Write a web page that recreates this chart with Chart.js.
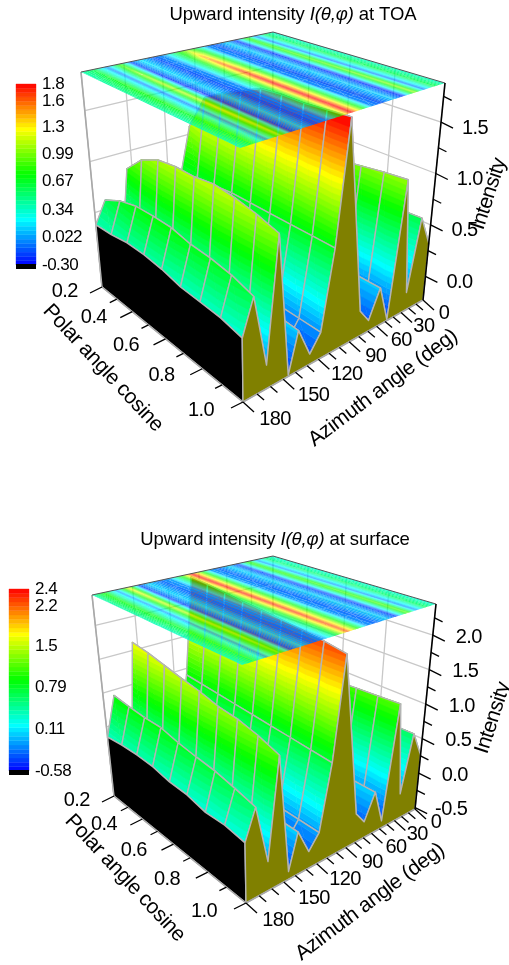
<!DOCTYPE html>
<html>
<head>
<meta charset="utf-8">
<style>
  html, body { margin: 0; padding: 0; background: #fff; }
  canvas { position: absolute; left: 0; }
</style>
<script src="https://cdn.jsdelivr.net/npm/chart.js@4/dist/chart.umd.js"></script>
</head>
<body>
<canvas id="toa" width="509" height="482" style="top:0"></canvas>
<canvas id="surf" width="509" height="483" style="top:482px"></canvas>
<script>
// values
const polarCos = [0.2, 0.3, 0.4, 0.5, 0.6, 0.7, 0.8, 0.9, 1.0];
const azimuth = [180, 172, 163, 154, 146, 138, 128, 118.5, 108, 98, 80, 70, 58.5, 48, 35, 25, 13, 0];

// one row per azimuth, one column per polar angle cosine
const toaIntensity = [
  [0.38, 0.39, 0.42, 0.42, 0.40, 0.36, 0.35, 0.34, 0.30],
  [0.59, 0.68, 0.73, 0.74, 0.74, 0.70, 0.69, 0.66, 0.60],
  [-0.02, -0.03, -0.04, -0.05, -0.05, -0.05, -0.04, -0.03, -0.03],
  [0.83, 1.01, 1.10, 1.13, 1.13, 1.16, 1.14, 1.10, 1.04],
  [-0.15, -0.18, -0.20, -0.21, -0.22, -0.22, -0.22, -0.22, -0.22],
  [0.18, 0.17, 0.16, 0.15, 0.14, 0.14, 0.13, 0.13, 0.12],
  [-0.12, -0.13, -0.14, -0.14, -0.14, -0.14, -0.14, -0.14, -0.14],
  [0.02, 0.02, 0.01, 0.01, 0.0, 0.0, 0.0, 0.0, 0.0],
  [0.62, 0.65, 0.68, 0.70, 0.70, 0.70, 0.70, 0.70, 0.70],
  [1.08, 1.46, 1.58, 1.68, 1.78, 1.80, 1.80, 1.82, 1.84],
  [0.02, 0.01, 0.01, 0.0, 0.0, 0.0, 0.0, 0.0, 0.0],
  [-0.12, -0.12, -0.13, -0.13, -0.13, -0.13, -0.13, -0.13, -0.13],
  [0.14, 0.14, 0.13, 0.13, 0.13, 0.13, 0.12, 0.12, 0.12],
  [-0.20, -0.20, -0.21, -0.21, -0.21, -0.22, -0.22, -0.22, -0.22],
  [0.80, 0.85, 0.90, 0.93, 0.95, 0.97, 1.00, 1.03, 1.05],
  [-0.05, -0.05, -0.05, -0.05, -0.06, -0.06, -0.06, -0.06, -0.06],
  [0.55, 0.56, 0.57, 0.58, 0.59, 0.60, 0.60, 0.60, 0.61],
  [0.30, 0.30, 0.31, 0.31, 0.31, 0.32, 0.32, 0.32, 0.32]
];
const surfIntensity = [
  [0.35, 0.38, 0.39, 0.38, 0.33, 0.32, 0.26, 0.27, 0.23],
  [0.92, 0.89, 0.87, 0.87, 0.81, 0.77, 0.74, 0.68, 0.61],
  [-0.12, -0.12, -0.13, -0.13, -0.14, -0.14, -0.14, -0.15, -0.15],
  [1.62, 1.58, 1.52, 1.46, 1.41, 1.34, 1.31, 1.24, 1.14],
  [-0.38, -0.39, -0.40, -0.40, -0.41, -0.41, -0.42, -0.42, -0.42],
  [0.06, 0.06, 0.05, 0.05, 0.04, 0.04, 0.04, 0.03, 0.03],
  [-0.28, -0.28, -0.29, -0.29, -0.29, -0.30, -0.30, -0.30, -0.30],
  [-0.10, -0.10, -0.10, -0.11, -0.11, -0.11, -0.12, -0.12, -0.12],
  [0.90, 0.88, 0.86, 0.84, 0.82, 0.80, 0.78, 0.76, 0.74],
  [2.40, 2.38, 2.35, 2.32, 2.30, 2.27, 2.24, 2.20, 2.15],
  [-0.10, -0.10, -0.11, -0.11, -0.12, -0.12, -0.12, -0.13, -0.13],
  [-0.28, -0.28, -0.28, -0.29, -0.29, -0.29, -0.30, -0.30, -0.30],
  [0.05, 0.05, 0.05, 0.05, 0.04, 0.04, 0.04, 0.04, 0.04],
  [-0.40, -0.40, -0.40, -0.41, -0.41, -0.41, -0.42, -0.42, -0.42],
  [1.00, 1.02, 1.04, 1.06, 1.08, 1.10, 1.12, 1.14, 1.16],
  [-0.15, -0.15, -0.15, -0.16, -0.16, -0.16, -0.17, -0.17, -0.17],
  [0.55, 0.56, 0.57, 0.58, 0.59, 0.60, 0.61, 0.62, 0.63],
  [0.25, 0.25, 0.25, 0.25, 0.26, 0.26, 0.26, 0.26, 0.26]
];

const polarTicks = [0.2, 0.4, 0.6, 0.8, 1.0];
const azimuthTicks = [0, 30, 60, 90, 120, 150, 180];
const toaZTicks = [0.0, 0.5, 1.0, 1.5];
const surfZTicks = [-0.5, 0.0, 0.5, 1.0, 1.5, 2.0];
const toaBarLabels = ['-0.30', '0.022', '0.34', '0.67', '0.99', '1.3', '1.6', '1.8'];
const toaBarValues = [-0.30, 0.022, 0.34, 0.67, 0.99, 1.3, 1.6, 1.8];
const surfBarLabels = ['-0.58', '0.11', '0.79', '1.5', '2.2', '2.4'];
const surfBarValues = [-0.58, 0.11, 0.79, 1.46, 2.12, 2.4];

// box corners on the page: f = front, l = left, r = right, b = back, t = top plane
const panels = [
  {
    id: 'toa', yMin: 0, yMax: 482, data: toaIntensity, zTicks: toaZTicks,
    zMin: -0.23, zMax: 1.88, cMin: -0.3, cMax: 1.8,
    f: [243, 402], l: [102, 287], r: [423, 300], b: [272, 222],
    ft: [240, 148], lt: [81, 72], rt: [445, 83], bt: [273, 32],
    bar: { x: 16, w: 20, top: 84, bottom: 265, black: 5, labelX: 42 },
    barLabels: toaBarLabels, barValues: toaBarValues,
    title: ['Upward intensity ', 'I(θ,φ)', ' at TOA'], titleX: 293, titleY: 15,
    polarTitle: [103, 368], azTitle: [383, 388], zTitle: [489, 194],
    zOff: [34, 6]
  },
  {
    id: 'surf', yMin: 482, yMax: 965, data: surfIntensity, zTicks: surfZTicks,
    zMin: -0.52, zMax: 2.45, cMin: -0.58, cMax: 2.4,
    f: [246, 903], l: [114, 796], r: [415, 809], b: [273, 734],
    ft: [242, 665], lt: [92, 595], rt: [436, 604], bt: [273, 556],
    bar: { x: 9, w: 20, top: 589, bottom: 771, black: 5, labelX: 35 },
    barLabels: surfBarLabels, barValues: surfBarValues,
    title: ['Upward intensity ', 'I(θ,φ)', ' at surface'], titleX: 275, titleY: 540,
    polarTitle: [125, 878], azTitle: [370, 902], zTitle: [493, 718],
    zOff: [36, 2]
  }
];

const BANDS = 42;
const KP = 0.44;  // perspective along azimuth
const KM = 0.22;  // perspective along polar cosine
const knots = [[0, 0, 255], [0, 255, 255], [0, 255, 0], [255, 255, 0], [255, 0, 0]];

function colorAt(t) {
  const p = Math.min(Math.max(t, 0), 1) * 4;
  const i = Math.min(Math.floor(p), 3);
  const a = knots[i], b = knots[i + 1], f = p - i;
  return 'rgb(' + a.map((c, n) => Math.round(c + (b[n] - c) * f)).join(',') + ')';
}

function warp(t, k) { return t * (1 + k) / (1 + k * t); }
function mix(a, b, t) { return [a[0] + (b[0] - a[0]) * t, a[1] + (b[1] - a[1]) * t]; }

function makeProject(p) {
  return function (mu, phi, z) {
    const sm = warp((1 - mu) / 0.8, KM);
    const sp = warp((180 - phi) / 180, KP);
    const w = (z - p.zMin) / (p.zMax - p.zMin);
    const floor = mix(mix(p.f, p.r, sp), mix(p.l, p.b, sp), sm);
    const top = mix(mix(p.ft, p.rt, sp), mix(p.lt, p.bt, sp), sm);
    const q = mix(floor, top, w);
    return { x: q[0], y: q[1], z: z };
  };
}

// keep the part of a polygon with lo <= z <= hi
function clipZ(poly, lo, hi) {
  function cut(pts, keep, level) {
    const out = [];
    pts.forEach((a, i) => {
      const b = pts[(i + 1) % pts.length];
      if (keep(a.z)) out.push(a);
      if (keep(a.z) !== keep(b.z)) {
        const t = (level - a.z) / (b.z - a.z);
        out.push({ x: a.x + (b.x - a.x) * t, y: a.y + (b.y - a.y) * t, z: level });
      }
    });
    return out;
  }
  let r = cut(poly, z => z >= lo, lo);
  if (r.length) r = cut(r, z => z <= hi, hi);
  return r;
}

class Layer {
  constructor() { this.data = []; this.shapes = []; }
  add(pts, style) {
    pts.forEach(q => this.data.push({ x: q.x, y: q.y }));
    this.shapes.push(Object.assign({ n: pts.length }, style));
  }
  dataset() { return { type: 'surface', data: this.data, shapes: this.shapes, parsing: false }; }
}

// every polygon goes through the chart's own x and y scales
class SurfaceController extends Chart.DatasetController {
  update() {}
  draw() {
    const meta = this._cachedMeta, ds = this.getDataset(), ctx = this.chart.ctx;
    const xs = meta.xScale, ys = meta.yScale;
    let k = 0;
    ctx.save();
    ctx.lineJoin = 'round';
    for (const s of ds.shapes) {
      ctx.beginPath();
      for (let i = 0; i < s.n; i++, k++) {
        const px = xs.getPixelForValue(ds.data[k].x), py = ys.getPixelForValue(ds.data[k].y);
        if (i) ctx.lineTo(px, py); else ctx.moveTo(px, py);
      }
      ctx.globalAlpha = s.alpha === undefined ? 1 : s.alpha;
      if (s.fill) { ctx.closePath(); ctx.fillStyle = s.fill; ctx.fill(); }
      if (s.stroke) { ctx.strokeStyle = s.stroke; ctx.lineWidth = s.lw || 1; ctx.stroke(); }
    }
    ctx.restore();
  }
}
SurfaceController.id = 'surface';
SurfaceController.defaults = { dataElementType: 'point', datasetElementType: false };
Chart.register(SurfaceController);

function bandFill(layer, poly, p, style) {
  const step = (p.cMax - p.cMin) / BANDS;
  const zs = poly.map(q => q.z);
  const first = Math.max(0, Math.floor((Math.min(...zs) - p.cMin) / step));
  const last = Math.min(BANDS - 1, Math.floor((Math.max(...zs) - p.cMin) / step));
  for (let b = first; b <= last; b++) {
    const lo = b === 0 ? -99 : p.cMin + b * step;
    const hi = b === BANDS - 1 ? 99 : p.cMin + (b + 1) * step;
    const part = clipZ(poly, lo, hi);
    if (part.length < 3) continue;
    const col = colorAt((b + 0.5) / BANDS);
    layer.add(part, Object.assign({ fill: col }, style ? style : { stroke: col, lw: 0.6 }));
  }
}

function buildDatasets(p) {
  const P = makeProject(p);
  const grid = new Layer(), surface = new Layer(), walls = new Layer(), plane = new Layer(), axes = new Layer();
  const nm = polarCos.length, na = azimuth.length;
  const GRID = { stroke: '#c8c8c8', lw: 1.3 };
  const EDGE = { stroke: '#b4b4b4', lw: 1.4 };
  const muLo = polarCos[0], muHi = polarCos[nm - 1];

  // back walls
  azimuthTicks.forEach(a => grid.add([P(muLo, a, p.zMin), P(muLo, a, p.zMax)], GRID));
  polarTicks.forEach(m => grid.add([P(m, 0, p.zMin), P(m, 0, p.zMax)], GRID));
  p.zTicks.forEach(z => {
    grid.add([P(muLo, 180, z), P(muLo, 0, z)], GRID);
    grid.add([P(muLo, 0, z), P(muHi, 0, z)], GRID);
  });
  grid.add([P(muLo, 180, p.zMin), P(muLo, 180, p.zMax)], { stroke: '#a8a8a8', lw: 1.6 });

  // surface cells, back to front
  for (let m = 0; m < nm - 1; m++) {
    for (let a = na - 2; a >= 0; a--) {
      const c = [[m, a + 1], [m + 1, a + 1], [m + 1, a], [m, a]].map(q =>
        P(polarCos[q[0]], azimuth[q[1]], p.data[q[1]][q[0]]));
      bandFill(surface, [c[0], c[1], c[2]], p);
      bandFill(surface, [c[0], c[2], c[3]], p);
      surface.add([c[0], c[1], c[2], c[3], c[0]], EDGE);
    }
  }

  // black wall at azimuth 180, olive wall at cosine 1.0
  const front = [P(muLo, 180, p.zMin)];
  polarCos.forEach((m, i) => front.push(P(m, 180, p.data[0][i])));
  front.push(P(muHi, 180, p.zMin));
  walls.add(front, { fill: '#000', stroke: '#b4b4b4', lw: 1.4 });
  const side = [P(muHi, 180, p.zMin)];
  azimuth.forEach((a, i) => side.push(P(muHi, a, p.data[i][nm - 1])));
  side.push(P(muHi, 0, p.zMin));
  walls.add(side, { fill: '#808000', stroke: '#b4b4b4', lw: 1.4 });

  // contour map on the top plane
  for (let m = 0; m < nm - 1; m++) {
    for (let a = 0; a < na - 1; a++) {
      const c = [[m, a + 1], [m + 1, a + 1], [m + 1, a], [m, a]].map(q => {
        const r = P(polarCos[q[0]], azimuth[q[1]], p.zMax);
        r.z = p.data[q[1]][q[0]];
        return r;
      });
      bandFill(plane, [c[0], c[1], c[2]], p, { alpha: 0.9 });
      bandFill(plane, [c[0], c[2], c[3]], p, { alpha: 0.9 });
    }
  }
  plane.add([P(muLo, 180, p.zMax), P(muLo, 0, p.zMax), P(muHi, 0, p.zMax)], { stroke: '#555', lw: 1 });

  // axes and ticks
  const AX = { stroke: '#000', lw: 1.3 };
  axes.add([P(muLo, 180, p.zMin), P(muHi, 180, p.zMin), P(muHi, 0, p.zMin)], { stroke: '#a8a8a8', lw: 1.6 });
  axes.add([P(muHi, 0, p.zMin), P(muHi, 0, p.zMax)], { stroke: '#000', lw: 1.6 });
  const tick = (o, dx, dy) => axes.add([o, { x: o.x + dx, y: o.y + dy }], AX);
  for (let m = 2; m <= 10; m++) {
    const major = m % 2 === 0;
    tick(P(m / 10, 180, p.zMin), major ? -12 : -7, major ? 6 : 3.5);
  }
  for (let a = 0; a <= 180; a += 10) {
    const major = a % 30 === 0;
    tick(P(muHi, a, p.zMin), major ? 11 : 7, major ? 10 : 6);
  }
  const zTickStep = 0.25;
  for (let z = p.zTicks[0] - zTickStep; z < p.zMax; z += zTickStep) {
    if (z < p.zMin) continue;
    const major = p.zTicks.some(v => Math.abs(v - z) < 1e-6);
    tick(P(muHi, 0, z), major ? 12 : 8, major ? 6 : 4);
  }

  // colour scale
  const barY = v => p.bar.bottom - (v - p.cMin) / (p.cMax - p.cMin) * (p.bar.bottom - p.bar.top);
  for (let b = 0; b < BANDS; b++) {
    const v0 = p.cMin + (p.cMax - p.cMin) * b / BANDS, v1 = p.cMin + (p.cMax - p.cMin) * (b + 1) / BANDS;
    const y0 = barY(v0), y1 = barY(v1);
    axes.add([{ x: p.bar.x, y: y0 }, { x: p.bar.x + p.bar.w, y: y0 }, { x: p.bar.x + p.bar.w, y: y1 }, { x: p.bar.x, y: y1 }],
      { fill: colorAt((b + 0.5) / BANDS), stroke: colorAt((b + 0.5) / BANDS), lw: 0.4 });
  }
  const by = p.bar.bottom;
  axes.add([{ x: p.bar.x, y: by - 1 }, { x: p.bar.x + p.bar.w, y: by - 1 }, { x: p.bar.x + p.bar.w, y: by + p.bar.black - 1 }, { x: p.bar.x, y: by + p.bar.black - 1 }], { fill: '#000' });

  // first dataset is painted last
  return [axes, plane, walls, surface, grid].map(l => l.dataset());
}

function labelsPlugin(p) {
  const P = makeProject(p);
  const FONT = '"Liberation Sans", Arial, sans-serif';
  return {
    id: 'labels',
    afterDraw(chart) {
      const ctx = chart.ctx;
      const sx = chart.scales.x, sy = chart.scales.y;
      const put = (str, x, y, size, angle, spacing) => {
        ctx.save();
        ctx.translate(sx.getPixelForValue(x), sy.getPixelForValue(y));
        ctx.rotate((angle || 0) * Math.PI / 180);
        ctx.font = size + 'px ' + FONT;
        ctx.letterSpacing = (spacing || 0) + 'px';
        ctx.fillStyle = '#000';
        ctx.textAlign = 'center';
        ctx.textBaseline = 'middle';
        ctx.fillText(str, 0, 0);
        ctx.restore();
      };

      // title, upright and italic parts side by side
      ctx.save();
      ctx.textBaseline = 'middle';
      ctx.textAlign = 'left';
      ctx.fillStyle = '#000';
      ctx.letterSpacing = '-0.1px';
      const fonts = ['18.5px ' + FONT, 'italic 18.5px ' + FONT, '18.5px ' + FONT];
      const widths = p.title.map((t, i) => { ctx.font = fonts[i]; return ctx.measureText(t).width; });
      let tx = sx.getPixelForValue(p.titleX) - widths.reduce((a, b) => a + b, 0) / 2;
      const ty = sy.getPixelForValue(p.titleY);
      p.title.forEach((t, i) => { ctx.font = fonts[i]; ctx.fillText(t, tx, ty); tx += widths[i]; });
      ctx.restore();

      polarTicks.forEach(m => {
        const q = P(m, 180, p.zMin);
        put(m.toFixed(1), q.x - 42 + (1 - m) * 6, q.y + 8 - (1 - m) * 4, 20, 0, -0.6);
      });
      azimuthTicks.forEach(a => {
        const q = P(1, a, p.zMin);
        put(String(a), q.x + 21 + a / 180 * 11, q.y + 13 + a / 180 * 4, 20, 0, -0.6);
      });
      p.zTicks.forEach(z => {
        const q = P(1, 0, z);
        put(z.toFixed(1), q.x + p.zOff[0], q.y + p.zOff[1], 20, 0, -0.6);
      });
      const barY = v => p.bar.bottom - (v - p.cMin) / (p.cMax - p.cMin) * (p.bar.bottom - p.bar.top);
      p.barLabels.forEach((t, i) => {
        ctx.save();
        ctx.font = '17px ' + FONT;
        ctx.letterSpacing = '-0.5px';
        ctx.fillStyle = '#000';
        ctx.textAlign = 'left';
        ctx.textBaseline = 'middle';
        ctx.fillText(t, sx.getPixelForValue(p.bar.labelX), sy.getPixelForValue(barY(p.barValues[i])));
        ctx.restore();
      });

      put('Polar angle cosine', p.polarTitle[0], p.polarTitle[1], 21, 47, -0.4);
      put('Azimuth angle (deg)', p.azTitle[0], p.azTitle[1], 21, -37, -0.4);
      put('Intensity', p.zTitle[0], p.zTitle[1], 21, -72, -0.5);
    }
  };
}

panels.forEach(p => {
  new Chart(document.getElementById(p.id), {
    type: 'surface',
    data: { datasets: buildDatasets(p) },
    plugins: [labelsPlugin(p)],
    options: {
      responsive: false,
      animation: false,
      events: [],
      layout: { padding: 0 },
      plugins: { legend: { display: false }, tooltip: { enabled: false }, title: { display: false } },
      scales: {
        x: { type: 'linear', display: false, min: 0, max: 509 },
        y: { type: 'linear', display: false, reverse: true, min: p.yMin, max: p.yMax }
      }
    }
  });
});
</script>
</body>
</html>
